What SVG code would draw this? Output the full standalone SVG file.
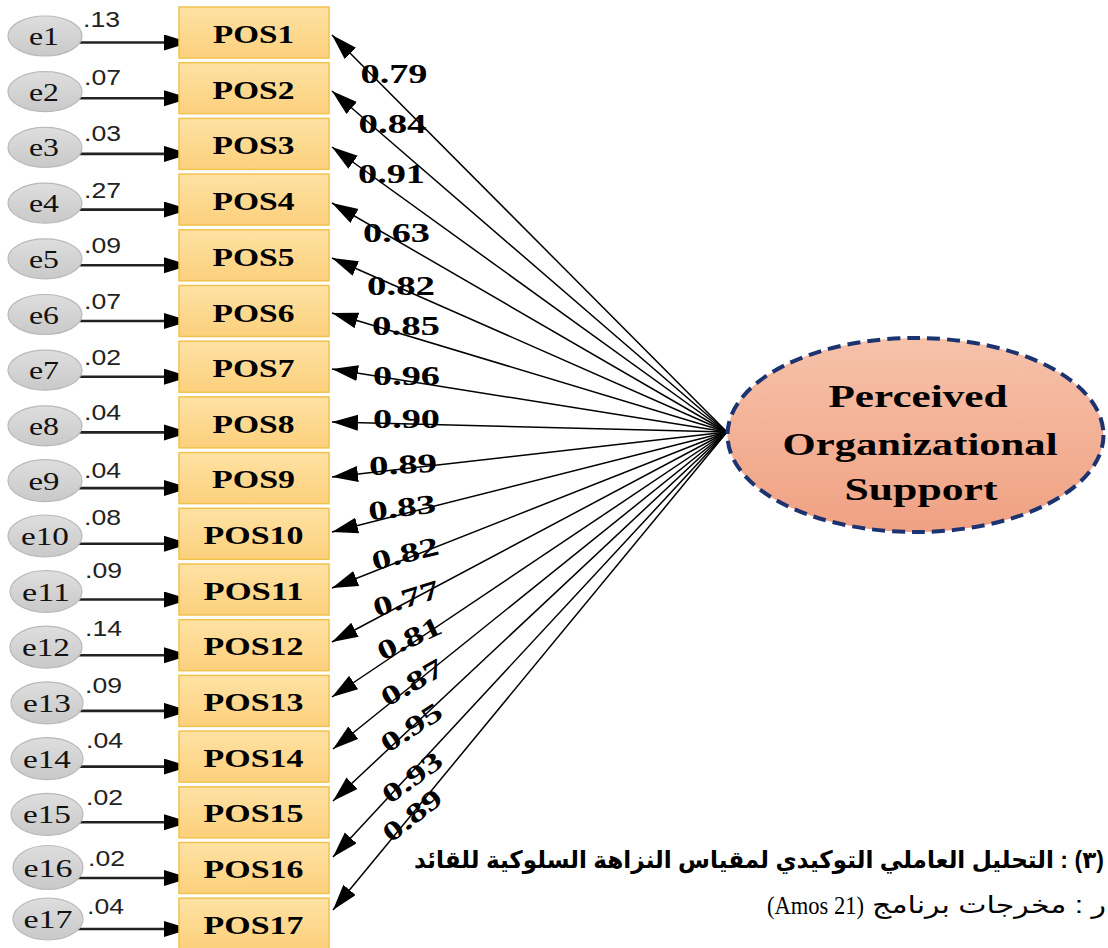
<svg xmlns="http://www.w3.org/2000/svg" width="1108" height="948" viewBox="0 0 1108 948">
<defs>
<linearGradient id="boxG" x1="0" y1="0" x2="0" y2="1"><stop offset="0" stop-color="#fee2a4"/><stop offset="1" stop-color="#fcd07c"/></linearGradient>
<linearGradient id="errG" x1="0" y1="0" x2="0" y2="1"><stop offset="0" stop-color="#dedede"/><stop offset="1" stop-color="#c9c9c9"/></linearGradient>
<linearGradient id="latG" x1="0" y1="0" x2="0" y2="1"><stop offset="0" stop-color="#f6c2aa"/><stop offset="1" stop-color="#f0a183"/></linearGradient>
<marker id="ah" markerUnits="userSpaceOnUse" markerWidth="28" markerHeight="18" refX="26" refY="8" orient="auto"><path d="M0,0 L26,8 L0,16 Z" fill="#000"/></marker>
<style>
.box{fill:url(#boxG);stroke:#f1c24e;stroke-width:1.5}
.err{fill:url(#errG);stroke:#b9b9b9;stroke-width:1.2}
.et{font-family:"Liberation Serif",serif;font-size:25px;fill:#111;text-anchor:middle}
.pt{font-family:"Liberation Serif",serif;font-size:26px;font-weight:bold;fill:#000;text-anchor:middle}
.rv{font-family:"Liberation Sans",sans-serif;font-size:22px;fill:#222}
.cf{font-family:"Liberation Serif",serif;font-size:27px;font-weight:bold;fill:#000;text-anchor:middle}
.lt{font-family:"Liberation Serif",serif;font-size:32px;font-weight:bold;fill:#000;text-anchor:middle}
.res{stroke:#222;stroke-width:2.6;fill:none;marker-end:url(#ah)}
.path{stroke:#000;stroke-width:1.5;fill:none;marker-end:url(#ah)}
.cap{font-family:"Liberation Sans","DejaVu Sans",sans-serif;fill:#000}
</style>
</defs>
<rect width="1108" height="948" fill="#fff"/>

<g id="connectors">
<line class="res" x1="75" y1="42.5" x2="190" y2="42.5"/>
<line class="res" x1="75" y1="98.2" x2="190" y2="98.2"/>
<line class="res" x1="75" y1="153.9" x2="190" y2="153.9"/>
<line class="res" x1="75" y1="209.6" x2="190" y2="209.6"/>
<line class="res" x1="75" y1="265.3" x2="190" y2="265.3"/>
<line class="res" x1="75" y1="321" x2="190" y2="321"/>
<line class="res" x1="75" y1="376.7" x2="190" y2="376.7"/>
<line class="res" x1="75" y1="432.4" x2="190" y2="432.4"/>
<line class="res" x1="75" y1="488.1" x2="190" y2="488.1"/>
<line class="res" x1="75" y1="543.8" x2="190" y2="543.8"/>
<line class="res" x1="75" y1="599.5" x2="190" y2="599.5"/>
<line class="res" x1="75" y1="655.2" x2="190" y2="655.2"/>
<line class="res" x1="75" y1="710.9" x2="190" y2="710.9"/>
<line class="res" x1="75" y1="766.6" x2="190" y2="766.6"/>
<line class="res" x1="75" y1="822.3" x2="190" y2="822.3"/>
<line class="res" x1="75" y1="878" x2="190" y2="878"/>
<line class="res" x1="75" y1="929" x2="190" y2="929"/>

<line class="path" x1="727" y1="432" x2="332" y2="35"/>
<line class="path" x1="727" y1="432" x2="332" y2="91"/>
<line class="path" x1="727" y1="432" x2="332" y2="147"/>
<line class="path" x1="727" y1="432" x2="332" y2="203"/>
<line class="path" x1="727" y1="432" x2="332" y2="258"/>
<line class="path" x1="727" y1="432" x2="332" y2="313"/>
<line class="path" x1="727" y1="432" x2="332" y2="369"/>
<line class="path" x1="727" y1="432" x2="332" y2="422"/>
<line class="path" x1="727" y1="432" x2="332" y2="477"/>
<line class="path" x1="727" y1="432" x2="332" y2="532"/>
<line class="path" x1="727" y1="432" x2="332" y2="588"/>
<line class="path" x1="727" y1="432" x2="332" y2="642"/>
<line class="path" x1="727" y1="432" x2="332" y2="697"/>
<line class="path" x1="727" y1="432" x2="333" y2="749"/>
<line class="path" x1="727" y1="432" x2="333" y2="801"/>
<line class="path" x1="727" y1="432" x2="333" y2="857"/>
<line class="path" x1="727" y1="432" x2="333" y2="910"/>
</g>

<g id="coefficients">
<text class="cf" x="394" y="83" textLength="67" lengthAdjust="spacingAndGlyphs">0.79</text>
<text class="cf" x="392.5" y="133" textLength="68" lengthAdjust="spacingAndGlyphs">0.84</text>
<text class="cf" x="391.5" y="183" textLength="67" lengthAdjust="spacingAndGlyphs">0.91</text>
<text class="cf" x="396.5" y="242" textLength="67" lengthAdjust="spacingAndGlyphs">0.63</text>
<text class="cf" x="401" y="295" textLength="68" lengthAdjust="spacingAndGlyphs">0.82</text>
<text class="cf" x="406" y="335" textLength="68" lengthAdjust="spacingAndGlyphs">0.85</text>
<text class="cf" x="406.5" y="385" textLength="67" lengthAdjust="spacingAndGlyphs">0.96</text>
<text class="cf" x="406.5" y="428" textLength="67" lengthAdjust="spacingAndGlyphs">0.90</text>
<text class="cf" transform="translate(403,464) rotate(-3)" y="9.5" textLength="68" lengthAdjust="spacingAndGlyphs">0.89</text>
<text class="cf" transform="translate(402,507) rotate(-7)" y="9.5" textLength="68" lengthAdjust="spacingAndGlyphs">0.83</text>
<text class="cf" transform="translate(405,553) rotate(-14)" y="9.5" textLength="68" lengthAdjust="spacingAndGlyphs">0.82</text>
<text class="cf" transform="translate(406,598) rotate(-17)" y="9.5" textLength="68" lengthAdjust="spacingAndGlyphs">0.77</text>
<text class="cf" transform="translate(409,638) rotate(-25)" y="9.5" textLength="68" lengthAdjust="spacingAndGlyphs">0.81</text>
<text class="cf" transform="translate(412,682) rotate(-30)" y="9.5" textLength="68" lengthAdjust="spacingAndGlyphs">0.87</text>
<text class="cf" transform="translate(411,727) rotate(-33)" y="9.5" textLength="68" lengthAdjust="spacingAndGlyphs">0.95</text>
<text class="cf" transform="translate(412,777) rotate(-36)" y="9.5" textLength="68" lengthAdjust="spacingAndGlyphs">0.93</text>
<text class="cf" transform="translate(412,815) rotate(-38)" y="9.5" textLength="68" lengthAdjust="spacingAndGlyphs">0.89</text>
</g>

<g id="residual-values">
<text class="rv" x="83" y="27" textLength="37" lengthAdjust="spacingAndGlyphs">.13</text>
<text class="rv" x="84" y="85" textLength="37" lengthAdjust="spacingAndGlyphs">.07</text>
<text class="rv" x="84" y="141" textLength="37" lengthAdjust="spacingAndGlyphs">.03</text>
<text class="rv" x="84" y="198" textLength="37" lengthAdjust="spacingAndGlyphs">.27</text>
<text class="rv" x="84" y="253" textLength="37" lengthAdjust="spacingAndGlyphs">.09</text>
<text class="rv" x="84" y="309" textLength="37" lengthAdjust="spacingAndGlyphs">.07</text>
<text class="rv" x="84" y="365" textLength="37" lengthAdjust="spacingAndGlyphs">.02</text>
<text class="rv" x="84" y="420" textLength="37" lengthAdjust="spacingAndGlyphs">.04</text>
<text class="rv" x="84" y="478" textLength="37" lengthAdjust="spacingAndGlyphs">.04</text>
<text class="rv" x="84" y="525" textLength="37" lengthAdjust="spacingAndGlyphs">.08</text>
<text class="rv" x="85" y="578" textLength="37" lengthAdjust="spacingAndGlyphs">.09</text>
<text class="rv" x="85" y="636" textLength="37" lengthAdjust="spacingAndGlyphs">.14</text>
<text class="rv" x="85" y="693" textLength="37" lengthAdjust="spacingAndGlyphs">.09</text>
<text class="rv" x="86" y="748" textLength="37" lengthAdjust="spacingAndGlyphs">.04</text>
<text class="rv" x="86" y="805" textLength="37" lengthAdjust="spacingAndGlyphs">.02</text>
<text class="rv" x="88" y="866" textLength="37" lengthAdjust="spacingAndGlyphs">.02</text>
<text class="rv" x="87" y="914" textLength="37" lengthAdjust="spacingAndGlyphs">.04</text>
</g>

<g id="e1"><ellipse class="err" cx="45" cy="36" rx="37" ry="20"/><text class="et" x="44" y="45" textLength="30" lengthAdjust="spacingAndGlyphs">e1</text></g>
<g id="e2"><ellipse class="err" cx="45" cy="91.7" rx="37" ry="20"/><text class="et" x="44" y="100.7" textLength="30" lengthAdjust="spacingAndGlyphs">e2</text></g>
<g id="e3"><ellipse class="err" cx="45" cy="147.4" rx="37" ry="20"/><text class="et" x="44" y="156.4" textLength="30" lengthAdjust="spacingAndGlyphs">e3</text></g>
<g id="e4"><ellipse class="err" cx="45" cy="203.1" rx="37" ry="20"/><text class="et" x="44" y="212.1" textLength="30" lengthAdjust="spacingAndGlyphs">e4</text></g>
<g id="e5"><ellipse class="err" cx="45" cy="258.8" rx="37" ry="20"/><text class="et" x="44" y="267.8" textLength="30" lengthAdjust="spacingAndGlyphs">e5</text></g>
<g id="e6"><ellipse class="err" cx="45" cy="314.5" rx="37" ry="20"/><text class="et" x="44" y="323.5" textLength="30" lengthAdjust="spacingAndGlyphs">e6</text></g>
<g id="e7"><ellipse class="err" cx="45" cy="370.2" rx="37" ry="20"/><text class="et" x="44" y="379.2" textLength="30" lengthAdjust="spacingAndGlyphs">e7</text></g>
<g id="e8"><ellipse class="err" cx="45" cy="425.9" rx="37" ry="20"/><text class="et" x="44" y="434.9" textLength="30" lengthAdjust="spacingAndGlyphs">e8</text></g>
<g id="e9"><ellipse class="err" cx="45" cy="480.6" rx="37" ry="21"/><text class="et" x="44" y="489.6" textLength="31" lengthAdjust="spacingAndGlyphs">e9</text></g>
<g id="e10"><ellipse class="err" cx="45" cy="536" rx="37" ry="21"/><text class="et" x="45" y="545" textLength="48" lengthAdjust="spacingAndGlyphs">e10</text></g>
<g id="e11"><ellipse class="err" cx="46" cy="591.5" rx="36" ry="21"/><text class="et" x="46" y="600.5" textLength="48" lengthAdjust="spacingAndGlyphs">e11</text></g>
<g id="e12"><ellipse class="err" cx="46" cy="647.2" rx="36" ry="21"/><text class="et" x="46" y="656.2" textLength="48" lengthAdjust="spacingAndGlyphs">e12</text></g>
<g id="e13"><ellipse class="err" cx="47" cy="702.9" rx="36" ry="21"/><text class="et" x="47" y="711.9" textLength="48" lengthAdjust="spacingAndGlyphs">e13</text></g>
<g id="e14"><ellipse class="err" cx="47" cy="758.6" rx="36" ry="21"/><text class="et" x="47" y="767.6" textLength="48" lengthAdjust="spacingAndGlyphs">e14</text></g>
<g id="e15"><ellipse class="err" cx="47" cy="814.3" rx="36" ry="21"/><text class="et" x="47" y="823.3" textLength="48" lengthAdjust="spacingAndGlyphs">e15</text></g>
<g id="e16"><ellipse class="err" cx="48" cy="867.5" rx="35" ry="22"/><text class="et" x="48" y="876.5" textLength="49" lengthAdjust="spacingAndGlyphs">e16</text></g>
<g id="e17"><ellipse class="err" cx="48" cy="919" rx="35" ry="21"/><text class="et" x="48" y="928" textLength="49" lengthAdjust="spacingAndGlyphs">e17</text></g>

<g id="POS1"><rect class="box" x="179" y="7" width="150" height="51"/><text class="pt" x="253.5" y="43" textLength="81" lengthAdjust="spacingAndGlyphs">POS1</text></g>
<g id="POS2"><rect class="box" x="179" y="62.7" width="150" height="51"/><text class="pt" x="253.5" y="98.7" textLength="82" lengthAdjust="spacingAndGlyphs">POS2</text></g>
<g id="POS3"><rect class="box" x="179" y="118.4" width="150" height="51"/><text class="pt" x="253.5" y="154.4" textLength="82" lengthAdjust="spacingAndGlyphs">POS3</text></g>
<g id="POS4"><rect class="box" x="179" y="174.1" width="150" height="51"/><text class="pt" x="253.5" y="210.1" textLength="82" lengthAdjust="spacingAndGlyphs">POS4</text></g>
<g id="POS5"><rect class="box" x="179" y="229.8" width="150" height="51"/><text class="pt" x="253.5" y="265.8" textLength="82" lengthAdjust="spacingAndGlyphs">POS5</text></g>
<g id="POS6"><rect class="box" x="179" y="285.5" width="150" height="51"/><text class="pt" x="253.5" y="321.5" textLength="82" lengthAdjust="spacingAndGlyphs">POS6</text></g>
<g id="POS7"><rect class="box" x="179" y="341.2" width="150" height="51"/><text class="pt" x="253.5" y="377.2" textLength="82" lengthAdjust="spacingAndGlyphs">POS7</text></g>
<g id="POS8"><rect class="box" x="179" y="396.9" width="150" height="51"/><text class="pt" x="253.5" y="432.9" textLength="82" lengthAdjust="spacingAndGlyphs">POS8</text></g>
<g id="POS9"><rect class="box" x="179" y="452.6" width="150" height="51"/><text class="pt" x="253.5" y="488.1" textLength="83" lengthAdjust="spacingAndGlyphs">POS9</text></g>
<g id="POS10"><rect class="box" x="179" y="508.3" width="150" height="51"/><text class="pt" x="253.5" y="543.8" textLength="100" lengthAdjust="spacingAndGlyphs">POS10</text></g>
<g id="POS11"><rect class="box" x="179" y="564" width="150" height="51"/><text class="pt" x="253.5" y="599.5" textLength="100" lengthAdjust="spacingAndGlyphs">POS11</text></g>
<g id="POS12"><rect class="box" x="179" y="619.7" width="150" height="51"/><text class="pt" x="253.5" y="655.2" textLength="100" lengthAdjust="spacingAndGlyphs">POS12</text></g>
<g id="POS13"><rect class="box" x="179" y="675.4" width="150" height="51"/><text class="pt" x="253.5" y="710.9" textLength="100" lengthAdjust="spacingAndGlyphs">POS13</text></g>
<g id="POS14"><rect class="box" x="179" y="731.1" width="150" height="51"/><text class="pt" x="253.5" y="766.6" textLength="100" lengthAdjust="spacingAndGlyphs">POS14</text></g>
<g id="POS15"><rect class="box" x="179" y="786.8" width="150" height="51"/><text class="pt" x="253.5" y="822.3" textLength="100" lengthAdjust="spacingAndGlyphs">POS15</text></g>
<g id="POS16"><rect class="box" x="179" y="842.5" width="150" height="51"/><text class="pt" x="253.5" y="878" textLength="100" lengthAdjust="spacingAndGlyphs">POS16</text></g>
<g id="POS17"><rect class="box" x="179" y="898.2" width="150" height="51"/><text class="pt" x="253.5" y="933.7" textLength="100" lengthAdjust="spacingAndGlyphs">POS17</text></g>

<g id="POS-latent">
<ellipse cx="915.5" cy="435" rx="188" ry="97" fill="url(#latG)" stroke="#1b3370" stroke-width="4" stroke-dasharray="13,7"/>
<text class="lt" x="918" y="407" textLength="179" lengthAdjust="spacingAndGlyphs">Perceived</text>
<text class="lt" x="920" y="455" textLength="275" lengthAdjust="spacingAndGlyphs">Organizational</text>
<text class="lt" x="921" y="500" textLength="153" lengthAdjust="spacingAndGlyphs">Support</text>
</g>

<g id="caption">
<text class="cap" x="1104" y="868" font-size="24" font-weight="bold" direction="rtl" text-anchor="start" textLength="690" lengthAdjust="spacingAndGlyphs">(٣) : التحليل العاملي التوكيدي لمقياس النزاهة السلوكية للقائد</text>
<text class="cap" x="1106" y="913" font-size="24" direction="rtl" text-anchor="start" textLength="234" lengthAdjust="spacingAndGlyphs">ر : مخرجات برنامج</text>
<text x="767" y="914" font-family="Liberation Serif, serif" font-size="26" fill="#000" textLength="97" lengthAdjust="spacingAndGlyphs">(Amos 21)</text>
</g>
</svg>
